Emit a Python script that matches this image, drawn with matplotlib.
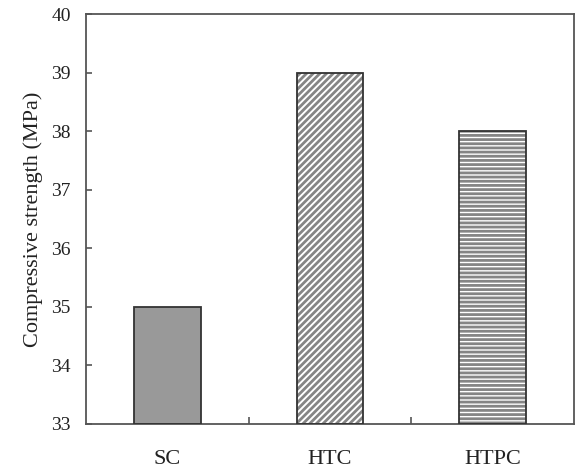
import matplotlib
matplotlib.use("Agg")
import matplotlib.pyplot as plt
from matplotlib.ticker import FixedLocator

categories = ["SC", "HTC", "HTPC"]
strength = [35.0, 39.0, 38.0]
yticks = [33, 34, 35, 36, 37, 38, 39, 40]

plt.rcParams["font.family"] = ["Liberation Serif", "DejaVu Serif"]
plt.rcParams["hatch.linewidth"] = 2.0

W, H = 578, 474
fig = plt.figure(figsize=(W / 100, H / 100), dpi=100)
ax = fig.add_axes([86 / W, (H - 424) / H, 488 / W, 410 / H])

x = list(range(len(categories)))
heights = [v - 33 for v in strength]
faces = ["#999999", "white", "white"]
hatches = ["", "/////", "----"]

# fill layer: hatch lines take the (grey) edge colour, so the outline is drawn separately
fill = ax.bar(x, heights, bottom=33, width=0.41, color=faces,
              edgecolor="#858585", linewidth=0, zorder=2)
for b, h in zip(fill, hatches):
    if h:
        b.set_hatch(h)
ax.bar(x, heights, bottom=33, width=0.41, fill=False,
       edgecolor="#333333", linewidth=1.3, zorder=3)

ax.set_xlim(-0.5, 2.5)
ax.set_ylim(33, 40)
ax.set_yticks(yticks)
ax.set_yticklabels([str(t) for t in yticks])
ax.set_xticks(x)
ax.set_xticklabels(categories)
ax.xaxis.set_minor_locator(FixedLocator([0.5, 1.5]))

for s in ax.spines.values():
    s.set_color("#555555")
    s.set_linewidth(1.3)

ax.tick_params(axis="y", direction="in", length=4, width=1.2, color="#555555",
               labelsize=14, labelcolor="#222222", pad=11)
ax.tick_params(axis="x", which="major", length=0, labelsize=16,
               labelcolor="#222222", pad=19)
ax.tick_params(axis="x", which="minor", direction="in", length=5, width=1.2,
               color="#555555")

ax.set_ylabel("Compressive strength (MPa)", fontsize=16, color="#222222",
              labelpad=6)

fig.savefig("out.png", dpi=100)
